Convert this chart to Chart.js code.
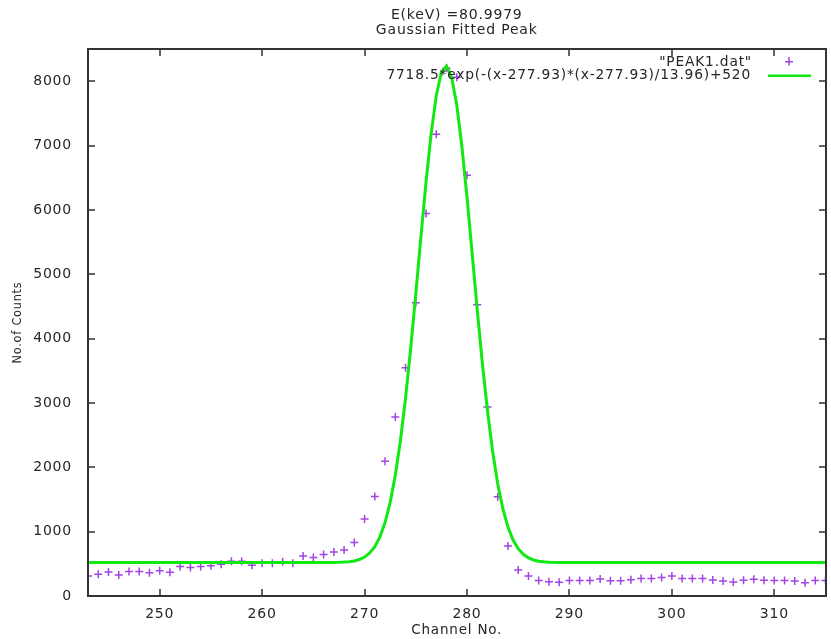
<!DOCTYPE html>
<html>
<head>
<meta charset="utf-8">
<script src="https://cdn.jsdelivr.net/npm/chart.js@4/dist/chart.umd.min.js"></script>
<style>
  html, body { margin: 0; padding: 0; background: #fff; }
  #wrap { width: 831px; height: 639px; }
</style>
</head>
<body>
<div id="wrap"><canvas id="peak"></canvas></div>
<script>
// measured counts per channel (PEAK1.dat)
const channels = [];
for (let c = 243; c <= 315; c++) channels.push(c);
const counts = [
  311, 337, 373, 327, 379, 379, 363, 394, 368, 457,
  441, 457, 472, 493, 540, 540, 477, 509, 509, 534,
  509, 622, 597, 643, 685, 716, 830, 1195, 1545, 2095,
  2783, 3546, 4558, 5943, 7175, 8200, 8060, 6537, 4524, 2936,
  1541, 778, 405, 311, 239, 223, 212, 239, 239, 239,
  265, 236, 236, 254, 270, 270, 288, 311, 270, 270,
  270, 249, 233, 218, 244, 259, 244, 239, 239, 233,
  207, 239, 239
];

// fitted curve
const fitX = [243, 266, 267, 267.5, 268, 268.5, 269, 269.5, 270, 270.5, 271, 271.5,
  272, 272.5, 273, 273.5, 274, 274.5, 275, 275.5, 276, 276.5, 277, 277.5,
  278, 278.5, 279, 279.5, 280, 280.5, 281, 281.5, 282, 282.5, 283, 283.5,
  284, 284.5, 285, 285.5, 286, 286.5, 287, 287.5, 288, 289, 290, 315];
const fitY = [520, 520, 521, 523, 527, 533, 545, 567, 605, 668, 767, 919,
  1142, 1454, 1874, 2413, 3074, 3843, 4693, 5577, 6431, 7186, 7775, 8137,
  8236, 8061, 7631, 6989, 6199, 5330, 4450, 3617, 2876, 2249, 1744, 1356,
  1071, 870, 735, 647, 593, 560, 541, 531, 525, 521, 520, 520];

const xTicks = [250, 260, 270, 280, 290, 300, 310];
const yTicks = [0, 1000, 2000, 3000, 4000, 5000, 6000, 7000, 8000];

const titleLines = ["E(keV) =80.9979", "Gaussian Fitted Peak"];
const dataLabel = '"PEAK1.dat"';
const fitLabel = "7718.5*exp(-(x-277.93)*(x-277.93)/13.96)+520";

const PURPLE = "#a344e4";
const GREEN = "rgb(18,232,18)";
const TEXT = "#262626";
const FONT = "'DejaVu Sans', sans-serif";

const spacing = {
  id: "spacing",
  beforeUpdate(chart) { chart.ctx.letterSpacing = "0.8px"; },
  beforeDraw(chart) { chart.ctx.letterSpacing = "0.8px"; }
};

// gnuplot style: full border, inward ticks on all four sides, key in the corner
const frame = {
  id: "frame",
  afterDraw(chart) {
    const { ctx, chartArea: a, scales } = chart;
    const L = Math.round(a.left), R = Math.round(a.right);
    const T = Math.round(a.top), B = Math.round(a.bottom);
    ctx.save();
    ctx.fillStyle = "#333";
    ctx.fillRect(L - 1, T - 1, R - L + 2, 2);
    ctx.fillRect(L - 1, B - 1, R - L + 2, 2);
    ctx.fillRect(L - 1, T - 1, 2, B - T + 2);
    ctx.fillRect(R - 1, T - 1, 2, B - T + 2);
    xTicks.forEach(v => {
      const px = Math.round(scales.x.getPixelForValue(v));
      ctx.fillRect(px - 0.75, B - 7, 1.5, 7);
      ctx.fillRect(px - 0.75, T, 1.5, 7);
    });
    yTicks.forEach(v => {
      const py = Math.round(scales.y.getPixelForValue(v));
      ctx.fillRect(L, py - 0.75, 7, 1.5);
      ctx.fillRect(R - 7, py - 0.75, 7, 1.5);
    });

    ctx.fillStyle = TEXT;
    ctx.font = "14px " + FONT;
    ctx.textAlign = "center";
    ctx.textBaseline = "middle";
    const cx = (a.left + a.right) / 2;
    ctx.fillText(titleLines[0], cx, 15);
    ctx.fillText(titleLines[1], cx, 30);

    ctx.font = "13.8px " + FONT;
    ctx.textAlign = "right";
    ctx.fillText(dataLabel, 752, 62);
    ctx.fillText(fitLabel, 751, 75);

    ctx.fillStyle = PURPLE;
    ctx.fillRect(785, 61, 8, 1.5);
    ctx.fillRect(788.25, 57, 1.5, 8.5);
    ctx.fillStyle = GREEN;
    ctx.fillRect(768, 74.5, 43, 2.5);
    ctx.restore();
  }
};

new Chart(document.getElementById("peak"), {
  type: "scatter",
  data: {
    datasets: [
      {
        label: fitLabel,
        type: "line",
        data: fitX.map((x, i) => ({ x: x, y: fitY[i] })),
        borderColor: GREEN,
        borderWidth: 3,
        pointRadius: 0,
        tension: 0,
        fill: false,
        order: 0
      },
      {
        label: dataLabel,
        data: channels.map((c, i) => ({ x: c, y: counts[i] })),
        pointStyle: "cross",
        pointRadius: 4,
        borderColor: PURPLE,
        backgroundColor: PURPLE,
        borderWidth: 1.5,
        order: 1
      }
    ]
  },
  options: {
    responsive: true,
    maintainAspectRatio: false,
    animation: false,
    layout: { padding: { top: 49, right: 2, left: 0, bottom: 0 } },
    plugins: { legend: { display: false }, tooltip: { enabled: false } },
    scales: {
      x: {
        type: "linear",
        min: 243,
        max: 315,
        afterBuildTicks: s => { s.ticks = xTicks.map(v => ({ value: v })); },
        afterFit: s => { s.height = 43; },
        grid: { display: false },
        border: { display: false },
        ticks: {
          color: TEXT, font: { family: FONT, size: 14 }, padding: 2, maxRotation: 0,
          callback: v => String(v)
        },
        title: {
          display: true, text: "Channel No.", color: TEXT,
          font: { family: FONT, size: 13.5 }, padding: 0
        }
      },
      y: {
        min: 0,
        max: 8500,
        afterBuildTicks: s => { s.ticks = yTicks.map(v => ({ value: v })); },
        afterFit: s => { s.width = 88; },
        grid: { display: false },
        border: { display: false },
        ticks: {
          color: TEXT, font: { family: FONT, size: 14 }, padding: 8,
          callback: v => String(v)
        },
        title: {
          display: true, text: "No.of Counts", color: TEXT,
          font: { family: "'DejaVu Sans Condensed', 'Liberation Sans Narrow', sans-serif", size: 12.5 },
          padding: { top: 10 }
        }
      }
    }
  },
  plugins: [spacing, frame]
});
</script>
</body>
</html>
